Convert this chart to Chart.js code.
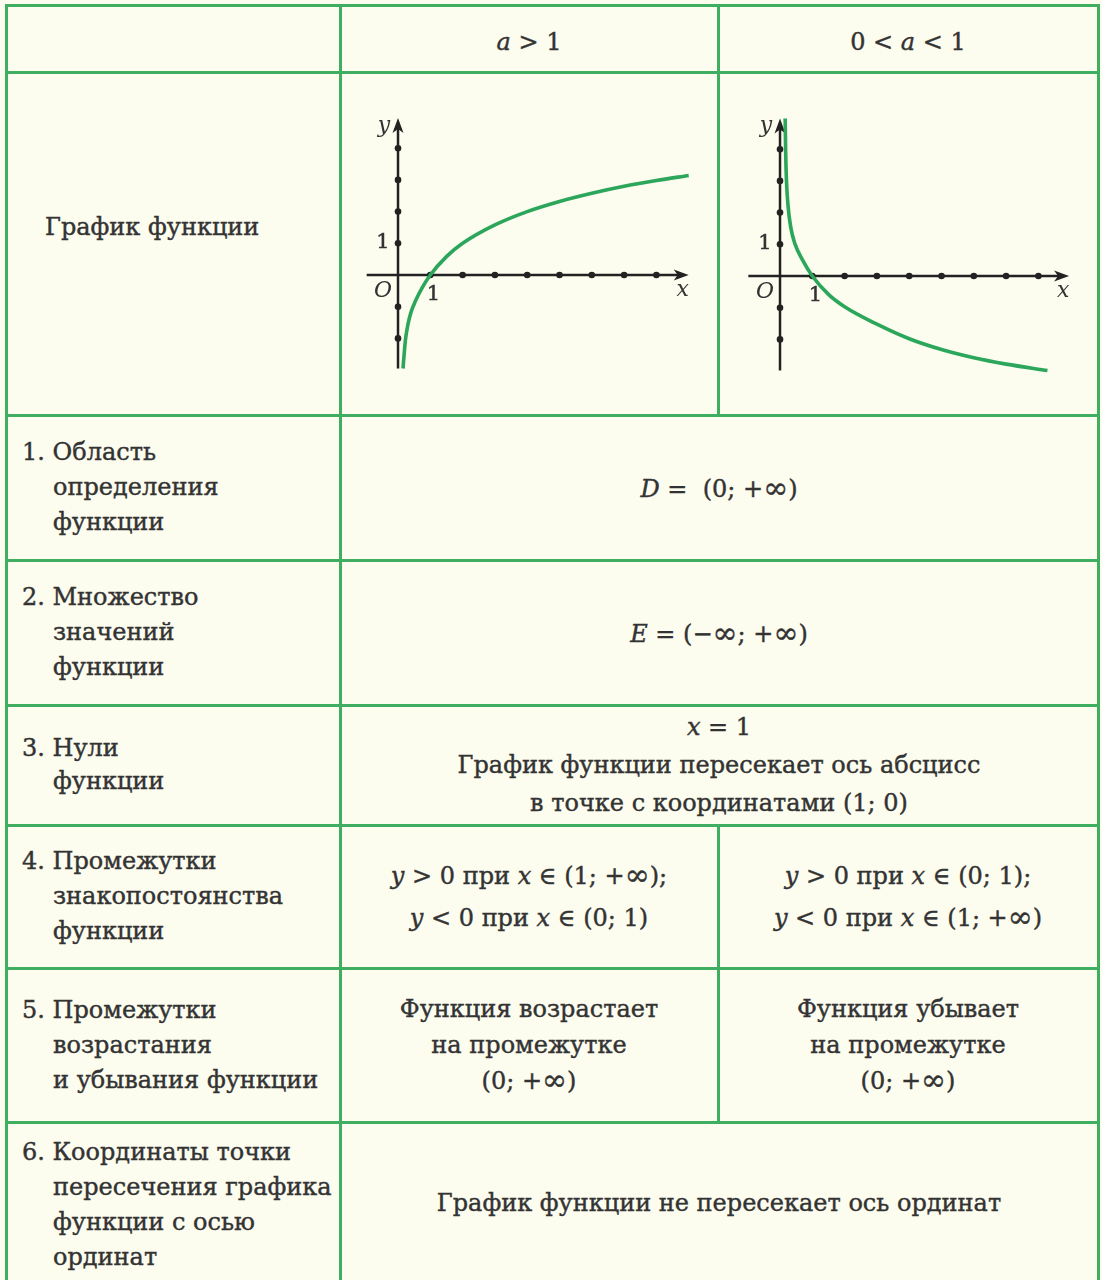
<!DOCTYPE html>
<html><head><meta charset="utf-8">
<script src="https://cdn.jsdelivr.net/npm/chart.js@4/dist/chart.umd.min.js"></script>
<style>
html,body{margin:0;padding:0;background:#fcfcef;}
body{width:1102px;height:1280px;position:relative;overflow:hidden;font-family:"DejaVu Serif",serif;color:#333;font-size:24px;-webkit-text-stroke:0.4px #333;}
.ln{position:absolute;background:#3fae60;}
.cell{position:absolute;display:flex;align-items:center;justify-content:center;text-align:center;box-sizing:border-box;}
.left{justify-content:flex-start;text-align:left;}
.lt{padding-left:47px;text-indent:-31px;line-height:35px;}
i{font-style:italic;}
.inf{font-size:1.25em;line-height:1;vertical-align:-1px;}
canvas{position:absolute;}
</style></head>
<body>
<div id="grid"></div>
<div class="cell" style="left:340px;top:8px;width:378px;height:67px;"><span><i>a</i> &gt; 1</span></div>
<div class="cell" style="left:718px;top:8px;width:380px;height:67px;"><span>0 &lt; <i>a</i> &lt; 1</span></div>
<div class="cell left" style="left:6px;top:72px;width:334px;height:310px;"><span style="padding-left:39px;">График функции</span></div>
<canvas id="c1" width="375" height="340" style="left:342px;top:74px;"></canvas>
<canvas id="c2" width="376" height="340" style="left:720px;top:74px;"></canvas>

<div class="cell left" style="left:6px;top:415px;width:334px;height:145px;"><div class="lt">1. Область<br>определения<br>функции</div></div>
<div class="cell" style="left:340px;top:415px;width:758px;height:145px;"><span><i>D</i> = &nbsp;(0; +<span class="inf">∞</span>)</span></div>

<div class="cell left" style="left:6px;top:560px;width:334px;height:145px;"><div class="lt">2. Множество<br>значений<br>функции</div></div>
<div class="cell" style="left:340px;top:560px;width:758px;height:145px;"><span><i>E</i> = (−<span class="inf">∞</span>; +<span class="inf">∞</span>)</span></div>

<div class="cell left" style="left:6px;top:705px;width:334px;height:120px;"><div class="lt" style="line-height:33px;">3. Нули<br>функции</div></div>
<div class="cell" style="left:340px;top:705px;width:758px;height:120px;"><div style="line-height:38px;"><i>x</i> = 1<br>График функции пересекает ось абсцисс<br>в точке с координатами (1; 0)</div></div>

<div class="cell left" style="left:6px;top:825px;width:334px;height:143px;"><div class="lt">4. Промежутки<br>знакопостоянства<br>функции</div></div>
<div class="cell" style="left:340px;top:825px;width:378px;height:143px;"><div style="line-height:42px;"><i>y</i> &gt; 0 при <i>x</i> ∈ (1; +<span class="inf">∞</span>);<br><i>y</i> &lt; 0 при <i>x</i> ∈ (0; 1)</div></div>
<div class="cell" style="left:718px;top:825px;width:380px;height:143px;"><div style="line-height:42px;"><i>y</i> &gt; 0 при <i>x</i> ∈ (0; 1);<br><i>y</i> &lt; 0 при <i>x</i> ∈ (1; +<span class="inf">∞</span>)</div></div>

<div class="cell left" style="left:6px;top:968px;width:334px;height:154px;"><div class="lt">5. Промежутки<br>возрастания<br>и убывания функции</div></div>
<div class="cell" style="left:340px;top:968px;width:378px;height:154px;"><div style="line-height:36px;">Функция возрастает<br>на промежутке<br>(0; +<span class="inf">∞</span>)</div></div>
<div class="cell" style="left:718px;top:968px;width:380px;height:154px;"><div style="line-height:36px;">Функция убывает<br>на промежутке<br>(0; +<span class="inf">∞</span>)</div></div>

<div class="cell left" style="left:6px;top:1122px;width:334px;height:166px;"><div class="lt">6. Координаты точки<br>пересечения графика<br>функции с осью<br>ординат</div></div>
<div class="cell" style="left:340px;top:1122px;width:758px;height:162px;"><span>График функции не пересекает ось ординат</span></div>

<script>
// ---- data ----
const incX = [0.155, 0.19, 0.23, 0.3, 0.4, 0.55, 0.75, 1, 1.5, 2, 3, 4, 5, 6, 7, 8, 9];
const incY = [-2.95, -2.5, -2.05, -1.6, -1.18, -0.8, -0.4, 0, 0.58, 1, 1.58, 2, 2.32, 2.58, 2.8, 2.98, 3.14];
const decX = [0.16, 0.175, 0.2, 0.25, 0.33, 0.46, 0.7, 1, 1.5, 2, 3, 4, 5, 6, 7, 8.28];
const decY = [4.97, 3.9, 3.0, 2.2, 1.55, 1.02, 0.5, 0, -0.58, -0.97, -1.52, -1.98, -2.32, -2.58, -2.78, -2.98];
const xTicks1 = [1, 2, 3, 4, 5, 6, 7, 8];
const yTicks1 = [-2, -1, 1, 2, 3, 4];
const xTicks2 = [1, 2, 3, 4, 5, 6, 7, 8];
const yTicks2 = [-2, -1, 1, 2, 3, 4];
const axisX1 = [-0.97, 9.0], axisY1 = [-2.95, 4.95];
const axisX2 = [-0.98, 8.95], axisY2 = [-2.98, 4.97];

// grid lines
const cols = [6, 340, 718, 1098];
const rows = [5, 72, 415, 560, 705, 825, 968, 1122];
const g = document.getElementById('grid');
function line(l, t, w, h) { const d = document.createElement('div'); d.className = 'ln'; d.style.cssText = `left:${l}px;top:${t}px;width:${w}px;height:${h}px`; g.appendChild(d); }
rows.forEach(r => line(cols[0] - 1.5, r - 1.5, cols[3] - cols[0] + 3, 3));
line(cols[0] - 1.5, rows[0] - 1.5, 3, 1300);
line(cols[1] - 1.5, rows[0] - 1.5, 3, 1300);
line(cols[3] - 1.5, rows[0] - 1.5, 3, 1300);
[[0, 2], [5, 7]].forEach(([a, b]) => line(cols[2] - 1.5, rows[a] - 1.5, 3, rows[b] - rows[a] + 3));

function pts(xs, ys) { return xs.map((x, i) => ({ x, y: ys[i] })); }

const axesPlugin = {
  id: 'axesPlugin',
  beforeDatasetsDraw(chart, args, o) {
    const { ctx, scales: { x, y } } = chart;
    const ox = x.getPixelForValue(0), oy = y.getPixelForValue(0);
    ctx.save();
    ctx.strokeStyle = '#222'; ctx.fillStyle = '#222'; ctx.lineWidth = 2.5;
    const x0 = x.getPixelForValue(o.ax[0]), x1 = x.getPixelForValue(o.ax[1]);
    const y0 = y.getPixelForValue(o.ay[0]), y1 = y.getPixelForValue(o.ay[1]);
    ctx.beginPath(); ctx.moveTo(x0, oy); ctx.lineTo(x1 - 8, oy); ctx.stroke();
    ctx.beginPath(); ctx.moveTo(ox, y0); ctx.lineTo(ox, y1 + 8); ctx.stroke();
    ctx.beginPath(); ctx.moveTo(x1, oy); ctx.lineTo(x1 - 15, oy - 5.5); ctx.lineTo(x1 - 11, oy); ctx.lineTo(x1 - 15, oy + 5.5); ctx.closePath(); ctx.fill();
    ctx.beginPath(); ctx.moveTo(ox, y1); ctx.lineTo(ox - 5.5, y1 + 15); ctx.lineTo(ox, y1 + 11); ctx.lineTo(ox + 5.5, y1 + 15); ctx.closePath(); ctx.fill();
    o.xt.forEach(v => { ctx.beginPath(); ctx.arc(x.getPixelForValue(v), oy, 3.3, 0, Math.PI * 2); ctx.fill(); });
    o.yt.forEach(v => { ctx.beginPath(); ctx.arc(ox, y.getPixelForValue(v), 3.3, 0, Math.PI * 2); ctx.fill(); });
    ctx.fillStyle = '#333';
    ctx.font = 'italic 22px "DejaVu Serif"';
    ctx.textAlign = 'center'; ctx.textBaseline = 'middle';
    ctx.fillText('y', ox - 14, y1 + 8);
    ctx.fillText('x', x1 - 6, oy + 15);
    ctx.fillText('O', ox - 15, oy + 16);
    ctx.font = '21px "DejaVu Serif"';
    ctx.lineWidth = 0.5; ctx.strokeStyle = '#333';
    ctx.fillText('1', x.getPixelForValue(1) + 3, oy + 20); ctx.strokeText('1', x.getPixelForValue(1) + 3, oy + 20);
    ctx.fillText('1', ox - 15, y.getPixelForValue(1) - 1); ctx.strokeText('1', ox - 15, y.getPixelForValue(1) - 1);
    ctx.restore();
  }
};

function make(id, data, lim, ax, ay, xt, yt) {
  new Chart(document.getElementById(id), {
    type: 'scatter',
    data: { datasets: [{ data, showLine: true, borderColor: '#2ba65a', borderWidth: 3.6, pointRadius: 0, cubicInterpolationMode: 'monotone', fill: false }] },
    options: {
      responsive: false, animation: false, events: [],
      layout: { padding: 0 },
      plugins: { legend: { display: false }, tooltip: { enabled: false }, axesPlugin: { ax, ay, xt, yt } },
      scales: {
        x: { type: 'linear', display: false, min: lim[0], max: lim[1] },
        y: { type: 'linear', display: false, min: lim[2], max: lim[3] }
      }
    },
    plugins: [axesPlugin]
  });
}
make('c1', pts(incX, incY), [-1.734, 9.876, -4.385, 6.34], axisX1, axisY1, xTicks1, yTicks1);
make('c2', pts(decX, decY), [-1.858, 9.783, -4.353, 6.372], axisX2, axisY2, xTicks2, yTicks2);
</script>
</body></html>
